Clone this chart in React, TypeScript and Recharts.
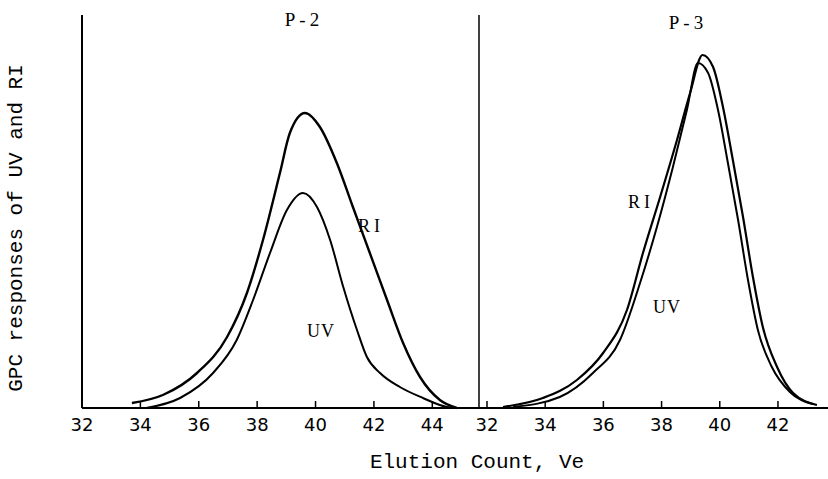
import React from "react";
import { LineChart, Line, XAxis, YAxis, ReferenceLine } from "recharts";

// P-2 panel (left)
const p2RiCount = [33.71, 34.77, 35.94, 36.97, 37.65, 38.2, 38.78, 39.12, 39.64, 40.15, 40.73, 41.28, 41.86, 42.45, 43.0, 43.58, 44.26, 44.84];
const p2RiResp = [5, 13, 35, 71, 115, 168, 235, 275, 295, 281, 245, 201, 155, 108, 65, 31, 8, 0];
const p2UvCount = [34.2, 35.36, 36.49, 37.3, 37.86, 38.44, 39.02, 39.57, 40.05, 40.5, 40.95, 41.42, 41.76, 42.21, 42.89, 43.68, 44.5, 44.84];
const p2UvResp = [0, 10, 35, 68, 108, 155, 198, 215, 201, 168, 121, 78, 51, 35, 21, 10, 1, 0];

// P-3 panel (right)
const p3RiCount = [32.55, 33.92, 35.09, 35.99, 36.81, 37.36, 37.95, 38.53, 38.98, 39.41, 39.77, 40.11, 40.45, 40.8, 41.14, 41.48, 41.97, 42.52, 43.34];
const p3RiResp = [1, 10, 28, 55, 98, 155, 211, 268, 315, 353, 341, 301, 248, 191, 131, 81, 41, 15, 3];
const p3UvCount = [32.9, 34.5, 35.64, 36.57, 37.26, 37.84, 38.39, 38.87, 39.25, 39.6, 39.94, 40.28, 40.63, 40.97, 41.31, 41.79, 42.41, 43.2];
const p3UvResp = [1, 11, 35, 68, 125, 181, 241, 298, 345, 335, 298, 245, 188, 128, 78, 41, 16, 4];

const p2Ticks = [32, 34, 36, 38, 40, 42, 44];
const p3Ticks = [32, 34, 36, 38, 40, 42];
const p2Domain = [32, 45.6];
const p3Domain = [31.725, 43.72];
const respDomain = [0, 393];

const toRows = (xs: number[], ys: number[]) => xs.map((x, i) => ({ x, y: ys[i] }));

const InTick = (props: any) => {
  const { x, y, payload } = props;
  return (
    <g>
      <line x1={x} x2={x} y1={y} y2={y - 7} stroke="#000" strokeWidth={1.5} />
      <text x={x} y={y + 23} textAnchor="middle" fontFamily="DejaVu Sans" fontSize={18} fill="#000">
        {payload.value}
      </text>
    </g>
  );
};

const serif = "Liberation Serif";
const mono = "Liberation Mono";

export default function App() {
  return (
    <div style={{ position: "absolute", left: 0, top: 0, width: 828, height: 479, background: "#fff" }}>
      <div style={{ position: "absolute", left: 0, top: 0 }}>
        <LineChart width={479} height={479} margin={{ top: 15, right: 0, left: 82, bottom: 31 }}>
          <XAxis
            type="number"
            dataKey="x"
            domain={p2Domain}
            allowDataOverflow
            ticks={p2Ticks}
            tick={<InTick />}
            tickLine={false}
            tickSize={0}
            tickMargin={0}
            height={40}
            axisLine={{ stroke: "#000", strokeWidth: 2 }}
          />
          <YAxis type="number" domain={respDomain} hide />
          <ReferenceLine x={p2Domain[0]} stroke="#000" strokeWidth={2} />
          <Line data={toRows(p2RiCount, p2RiResp)} dataKey="y" type="monotone" stroke="#000" strokeWidth={2.4} dot={false} isAnimationActive={false} />
          <Line data={toRows(p2UvCount, p2UvResp)} dataKey="y" type="monotone" stroke="#000" strokeWidth={2} dot={false} isAnimationActive={false} />
        </LineChart>
      </div>
      <div style={{ position: "absolute", left: 440, top: 0 }}>
        <LineChart width={388} height={479} margin={{ top: 15, right: 0, left: 39, bottom: 31 }}>
          <XAxis
            type="number"
            dataKey="x"
            domain={p3Domain}
            allowDataOverflow
            ticks={p3Ticks}
            tick={<InTick />}
            tickLine={false}
            tickSize={0}
            tickMargin={0}
            height={40}
            axisLine={{ stroke: "#000", strokeWidth: 2 }}
          />
          <YAxis type="number" domain={respDomain} hide />
          <ReferenceLine x={p3Domain[0]} stroke="#000" strokeWidth={1.5} />
          <Line data={toRows(p3RiCount, p3RiResp)} dataKey="y" type="monotone" stroke="#000" strokeWidth={2.2} dot={false} isAnimationActive={false} />
          <Line data={toRows(p3UvCount, p3UvResp)} dataKey="y" type="monotone" stroke="#000" strokeWidth={2} dot={false} isAnimationActive={false} />
        </LineChart>
      </div>
      <svg width={828} height={479} style={{ position: "absolute", left: 0, top: 0, pointerEvents: "none" }}>
        <text x={304} y={26} textAnchor="middle" fontFamily={serif} fontSize={19} letterSpacing={4} fill="#000">P-2</text>
        <text x={688} y={29} textAnchor="middle" fontFamily={serif} fontSize={19} letterSpacing={4} fill="#000">P-3</text>
        <text x={358} y={232} fontFamily={serif} fontSize={18} letterSpacing={4} fill="#000">RI</text>
        <text x={307} y={337} fontFamily={serif} fontSize={18} letterSpacing={1} fill="#000">UV</text>
        <text x={628} y={208} fontFamily={serif} fontSize={18} letterSpacing={4} fill="#000">RI</text>
        <text x={653} y={313} fontFamily={serif} fontSize={18} letterSpacing={1} fill="#000">UV</text>
        <text x={477} y={468} textAnchor="middle" fontFamily={mono} fontSize={21} fill="#000">Elution Count, Ve</text>
        <text x={0} y={0} transform="translate(22,228) rotate(-90)" textAnchor="middle" fontFamily={mono} fontSize={21} fill="#000">GPC responses of UV and RI</text>
      </svg>
    </div>
  );
}
